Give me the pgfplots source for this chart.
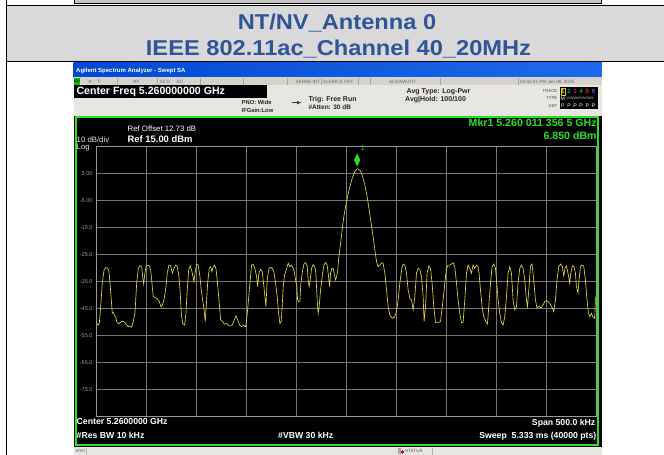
\documentclass[border=0pt]{standalone}
\usepackage{pgfplots}
\pgfplotsset{compat=1.18}
\usepackage{fontspec}
\setmainfont{Liberation Sans}
\definecolor{bandgray}{HTML}{D9D9D9}
\definecolor{titleblue}{HTML}{2F5597}
\definecolor{wingray}{HTML}{D6D3CC}
\definecolor{winlight}{HTML}{E8E6E0}
\definecolor{scrgreen}{HTML}{28E028}
\definecolor{tracey}{HTML}{DCD840}
\definecolor{gridg}{HTML}{767676}
\newcommand{\fs}[1]{\fontsize{#1bp}{#1bp}\selectfont}
\pgfplotstableread{
f dB
-250 -50.3
-248 -51.2
-247 -50.6
-245.6 -44.4
-244 -35.7
-242.3 -30.8
-240.6 -29.9
-238.6 -30.2
-237.3 -31.4
-236.3 -35.7
-235 -41.9
-234 -46.8
-233 -46.6
-232 -47.5
-230.6 -48.1
-229.6 -49.9
-227.6 -50.8
-224.6 -49.9
-223 -49.9
-221.3 -50.3
-219.6 -51.2
-218 -51.8
-216.3 -51.5
-214.6 -52.0
-213 -49.9
-211.3 -46.6
-209.6 -35.7
-208 -30.2
-206.3 -29.2
-204.6 -29.6
-203.6 -33.3
-202.6 -36.0
-201.6 -32.6
-200.3 -29.6
-198.6 -29.0
-197 -29.3
-195.6 -30.8
-194.3 -35.7
-193 -40.7
-191.3 -40.9
-189 -41.4
-187 -42.5
-185.3 -44.4
-184 -43.8
-182.3 -41.9
-180.3 -37.0
-179 -32.0
-177.3 -29.0
-175.6 -29.2
-174 -32.0
-172.3 -30.2
-170.6 -29.0
-169 -29.6
-167.3 -33.3
-166 -39.4
-165 -46.8
-163.6 -50.6
-161.6 -51.2
-160.3 -46.8
-159 -38.2
-157.6 -30.8
-156 -29.3
-154.3 -31.4
-152.3 -35.1
-151 -31.4
-149.6 -28.6
-148 -29.0
-146.3 -33.3
-145.3 -37.0
-143.6 -41.9
-142 -45.9
-141 -49.9
-140 -44.4
-138.6 -35.7
-137 -30.2
-135.6 -29.6
-134.3 -31.4
-133 -29.6
-131.6 -29.0
-130.3 -30.2
-129 -34.5
-127.3 -41.9
-125.6 -49.3
-123.6 -49.9
-122 -50.9
-119.6 -50.6
-117 -51.5
-114.6 -51.5
-113 -50.3
-110.3 -47.8
-108.6 -49.3
-106.6 -51.2
-104.6 -51.8
-103 -51.2
-100.6 -51.8
-99.6 -49.3
-98 -43.1
-96.3 -35.7
-94.6 -29.0
-93 -28.6
-91.3 -30.2
-89.6 -33.3
-88.6 -37.0
-87.3 -32.0
-85.6 -30.6
-84 -31.4
-82.3 -37.0
-81.3 -40.7
-80.3 -44.4
-79 -34.5
-77.3 -30.2
-75.6 -29.8
-74 -30.2
-72.3 -31.4
-70.6 -35.7
-69 -40.7
-67.6 -46.8
-66.3 -50.6
-65 -49.9
-64 -44.4
-63 -37.0
-61.6 -32.6
-60 -30.8
-58 -28.3
-56.3 -29.6
-54.6 -29.0
-53 -30.2
-52 -31.4
-50.6 -34.5
-49.3 -37.0
-48.6 -41.9
-47.6 -42.5
-46.3 -42.4
-45.3 -35.7
-44 -32.0
-42.3 -28.6
-40.6 -28.1
-39 -29.3
-38 -34.5
-37 -37.0
-36 -34.5
-34.6 -30.2
-33 -28.8
-31.3 -29.6
-30.3 -32.0
-29 -41.9
-28 -46.8
-27 -44.4
-25.6 -38.2
-24 -33.3
-22.3 -29.0
-20.6 -28.1
-19 -29.0
-17.6 -33.3
-16.6 -37.0
-15.6 -32.0
-14.3 -30.2
-13 -30.2
-12 -32.0
-10.6 -34.5
-9.6 -33.3
-8.6 -31.4
-7.3 -25.9
-5.6 -20.9
-4 -16.0
-2.3 -11.0
-0.6 -7.3
1.4 -3.6
3.7 0.1
6 3.1
8.7 5.6
11 6.7
13.7 6.2
16 4.4
18.7 0.7
21 -3.6
23 -8.6
25 -13.5
27 -18.5
28.7 -23.4
30.4 -27.7
32 -29.6
33.7 -29.0
35.7 -28.1
37 -28.3
38.7 -32.0
40.4 -38.2
42 -44.4
43.7 -47.5
46.4 -48.7
48.7 -48.1
50.4 -46.2
52 -41.9
53.7 -35.7
55.7 -30.2
57 -28.6
58.7 -29.0
60.4 -32.0
62 -38.2
63.7 -41.3
65.4 -41.9
67 -45.6
68.7 -40.7
70.4 -32.0
72 -30.2
73.7 -30.6
75.4 -33.3
77 -40.7
78 -49.9
79.4 -44.4
81 -32.0
82.7 -29.3
84.4 -30.2
86 -35.7
87.7 -44.4
89.4 -50.3
92 -50.3
94.4 -49.9
95.4 -46.8
97 -41.9
98.7 -35.7
100.4 -30.2
102 -29.0
103.7 -29.0
105.4 -28.6
107 -28.1
108.7 -29.6
110.4 -35.7
112 -41.9
113.7 -46.8
115.4 -50.3
117 -50.3
118.7 -41.9
120.4 -32.0
122 -29.0
123.7 -30.2
125.4 -32.0
127 -29.0
128.7 -30.2
130.4 -29.0
132 -29.6
133 -32.0
134.4 -38.2
136 -44.4
137.7 -48.1
139.7 -49.9
141.4 -50.8
142.7 -44.4
144.4 -35.7
146 -29.6
147.7 -28.6
149.4 -30.2
151 -37.0
152 -41.9
153.7 -46.8
155.4 -50.3
157 -51.2
158.7 -48.1
160.4 -40.7
162 -32.0
163.7 -29.6
165.4 -32.0
167 -41.9
168.7 -45.6
170.4 -44.4
172 -35.7
173.7 -30.2
175.4 -29.0
177 -30.2
178.7 -34.5
180.4 -41.9
181.4 -44.4
183 -37.0
184.4 -29.3
186 -28.6
187.7 -34.5
189.4 -41.9
191 -45.0
193 -44.1
194.7 -45.0
197 -43.8
198.7 -42.5
200.4 -42.2
202 -42.5
203.7 -43.1
206.4 -45.0
207.7 -46.2
209.4 -41.9
211 -34.5
212.7 -29.6
214.7 -28.6
216.4 -29.6
217.7 -33.0
219 -30.2
220.4 -29.3
222 -32.0
223.7 -35.7
224.7 -32.0
226.4 -29.3
228 -29.6
229.4 -32.0
230.4 -37.0
232 -39.4
233 -34.5
234.4 -29.6
236 -29.0
237.7 -29.3
239.4 -34.5
241 -41.9
242.4 -46.8
243.7 -48.1
245.4 -46.8
247 -48.3
248.7 -48.7
249.4 -40.7
}\tracedata
\begin{document}
\begin{tikzpicture}
\begin{scope}[x=1bp,y=-1bp]
\useasboundingbox (0,0) rectangle (664,455);
\fill[white] (0,0) rectangle (664,455);
% remnant of previous screenshot
\fill[gray!45] (74,0) rectangle (601,3);
\draw[black, line width=1.2bp] (74,3.4) -- (601,3.4);
\draw[black, line width=0.8bp] (74,0) -- (74,4) (601,0) -- (601,4);
% title band
\fill[bandgray] (6,5.5) rectangle (664,61.5);
\draw[black, line width=0.8bp] (6,5.5) -- (664,5.5);
\draw[black, line width=0.8bp] (6,61.5) -- (664,61.5);
\draw[black, line width=0.8bp] (6,0) -- (6,455);
\node[text=titleblue, font=\fs{21.5}\bfseries, xscale=1.1, anchor=base, inner sep=0pt] at (337,29.5) {NT/NV\_Antenna 0};
\node[text=titleblue, font=\fs{21.5}\bfseries, xscale=1.1, anchor=base, inner sep=0pt] at (338.5,56) {IEEE 802.11ac\_Channel 40\_20MHz};
% screenshot frame
\fill[black!80] (73.5,62.3) rectangle (601.8,455);
\shade[left color={rgb,255:red,0;green,72;blue,210}, right color={rgb,255:red,30;green,105;blue,235}] (73.5,63) rectangle (601.8,77.5);
\node[white, font=\fs{6}\bfseries, anchor=west, inner sep=0pt] at (76,70.5) {Agilent Spectrum Analyzer - Swept SA};
% status row
\fill[wingray] (73.5,77.5) rectangle (601.8,85.5);
\fill[green!75!black] (74,78.3) rectangle (79.5,84.7);
\node[black, font=\fs{3.5}\bfseries, inner sep=0pt] at (76.8,81.5) {LXI};
\foreach \sx in {116.7,156.7,200,243.3,286.7,321,358,370,440,518} {\draw[gray!70, line width=0.4bp] (\sx,78) -- (\sx,85);}
\begin{scope}[every node/.style={font=\fs{4.6}, text=black!60, inner sep=0pt, anchor=west}]
\node at (88.5,81.7) {R};
\node at (97.5,81.7) {T};
\node at (133,81.7) {RF};
\node at (160,81.7) {50 Ω};
\node at (176.5,81.7) {AC};
\node at (295.5,81.7) {SENSE:INT};
\node at (323,81.7) {SOURCE OFF};
\node at (389,81.7) {ALIGNAUTO};
\node at (520,81.7) {04:52:41 PM Jan 08, 2025};
\end{scope}
% center freq bar and info rows
\fill[winlight] (73.5,85.5) rectangle (601.8,116);
\fill[black] (73.5,85.5) rectangle (267,98);
\node[white, font=\fs{10.6}\bfseries, anchor=west, inner sep=0pt] at (76.3,91.8) {Center Freq 5.260000000 GHz};
\begin{scope}[every node/.style={text=black!85, inner sep=0pt, anchor=west}]
\node[font=\fs{5.8}\bfseries] at (241.5,102.7) {PNO: Wide};
\node[font=\fs{5.8}\bfseries] at (241.5,110) {IFGain:Low};
\node[font=\fs{7}\bfseries] at (308.3,99.3) {Trig: Free Run};
\node[font=\fs{6.5}\bfseries] at (308.3,106.7) {\#Atten: 30 dB};
\node[font=\fs{7}\bfseries] at (406.5,91.7) {Avg Type: Log-Pwr};
\node[font=\fs{7}\bfseries] at (405,99.3) {Avg|Hold: 100/100};
\end{scope}
\draw[black!80, line width=0.5bp, -latex] (291.5,102.7) -- (301.5,102.7);
\begin{scope}[every node/.style={text=black!70, font=\fs{4.3}, inner sep=0pt, anchor=east}]
\node at (557.5,90.7) {TRACE};
\node at (557.5,98.3) {TYPE};
\node at (557.5,105.7) {DET};
\end{scope}
\fill[black] (559.5,86.7) rectangle (597.5,109.3);
\draw[yellow!80!black, line width=0.4bp] (560.8,88) rectangle (565,95.4);
\begin{scope}[every node/.style={font=\fs{6.2}\bfseries, inner sep=0pt}]
\node[text=yellow!90!black] at (562.9,91.7) {1};
\node[text=cyan!80!blue] at (569,91.7) {2};
\node[text=magenta!80!blue] at (575.1,91.7) {3};
\node[text=green!70!black] at (581.2,91.7) {4};
\node[text=red!70!orange] at (587.3,91.7) {5};
\node[text=blue!70!white] at (593.6,91.7) {6};
\end{scope}
\node[text=white, font=\fs{5.2}, inner sep=0pt] at (562.9,98.3) {M};
\node[text=white!75!black, font=\fs{3.6}, inner sep=0pt, anchor=west] at (566.5,98.3) {WWWWWWWW};
\foreach \px in {562.9,569,575.1,581.2,587.3,593.6} {\node[text=white, font=\fs{5.2}, inner sep=0pt] at (\px,105.7) {P};}
% main display
\fill[black] (73.5,116) rectangle (601.8,446.5);
\draw[scrgreen, line width=2bp] (76,117.5) rectangle (598,445.3);
\node[white, font=\fs{7.8}, anchor=west, inner sep=0pt] at (127.5,128.3) {Ref Offset 12.73 dB};
\node[white, font=\fs{9.4}\bfseries, anchor=west, inner sep=0pt] at (127.5,139) {Ref 15.00 dBm};
\node[white!90!black, font=\fs{7.8}, anchor=west, inner sep=0pt] at (76.5,140) {10 dB/div};
\node[white!90!black, font=\fs{7.8}, anchor=west, inner sep=0pt] at (76.5,147.5) {Log};
\node[scrgreen, font=\fs{10.6}\bfseries, anchor=east, inner sep=0pt] at (596.8,122.7) {Mkr1 5.260 011 356 5 GHz};
\node[scrgreen, font=\fs{10.6}\bfseries, anchor=east, inner sep=0pt] at (596.8,136) {6.850 dBm};
\node[white, font=\fs{8.7}\bfseries, anchor=west, inner sep=0pt] at (76.5,421.8) {Center 5.2600000 GHz};
\node[white, font=\fs{8.7}\bfseries, anchor=west, inner sep=0pt] at (76.5,435) {\#Res BW 10 kHz};
\node[white, font=\fs{8.7}\bfseries, anchor=west, inner sep=0pt] at (278,435) {\#VBW 30 kHz};
\node[white, font=\fs{8.7}\bfseries, anchor=east, inner sep=0pt] at (595.5,422.8) {Span 500.0 kHz};
\node[white, font=\fs{8.7}\bfseries, anchor=east, inner sep=0pt] at (596.5,436) {Sweep\ \ 5.333 ms (40000 pts)};
% message bar
\fill[winlight] (73.5,447) rectangle (601.8,455);
\draw[gray!60, line width=0.4bp] (86,447.5) -- (86,455);
\node[text=black!60, font=\fs{4.3}, inner sep=0pt, anchor=west] at (75.5,451.2) {MSG};
\fill[gray!70] (398,447.5) rectangle (401,454);
\fill[red!80!black] (402.5,452) circle (1.8);
\node[text=black!65, font=\fs{4.6}, inner sep=0pt, anchor=west] at (405,450.8) {STATUS};
\draw[gray!60, line width=0.4bp] (432.5,447.5) -- (432.5,455);
\end{scope}
\begin{axis}[
  at={(96.3bp,-416.3bp)}, anchor=south west,
  width=499.7bp, height=270bp, scale only axis,
  xmin=-250, xmax=250, ymin=-85, ymax=15,
  xtick={-250,-200,-150,-100,-50,0,50,100,150,200,250},
  ytick={-85,-75,-65,-55,-45,-35,-25,-15,-5,5,15},
  xticklabels={},
  yticklabels={,-75.0,-65.0,-55.0,-45.0,-35.0,-25.0,-15.0,-5.00,5.00,},
  yticklabel style={font=\fs{5.6}, text=white!60!black, inner sep=0pt, xshift=-3.5bp},
  major tick length=0pt,
  grid=major,
  major grid style={gridg, line width=0.8bp},
  axis line style={white!60!black, line width=0.8bp},
  axis background/.style={fill=black},
]
\addplot[tracey, line width=0.65bp] table[x=f, y=dB] {\tracedata};
\addplot[only marks, mark=diamond*, mark size=6bp, scrgreen,
  mark options={yshift=8.3bp, xscale=0.6, fill=scrgreen, draw=scrgreen},
  nodes near coords={1},
  every node near coord/.append style={font=\fs{7}, text=scrgreen, anchor=south west, inner sep=0pt, xshift=3.5bp, yshift=9bp}]
  coordinates {(11,6.85)};
\end{axis}
\end{tikzpicture}
\end{document}
